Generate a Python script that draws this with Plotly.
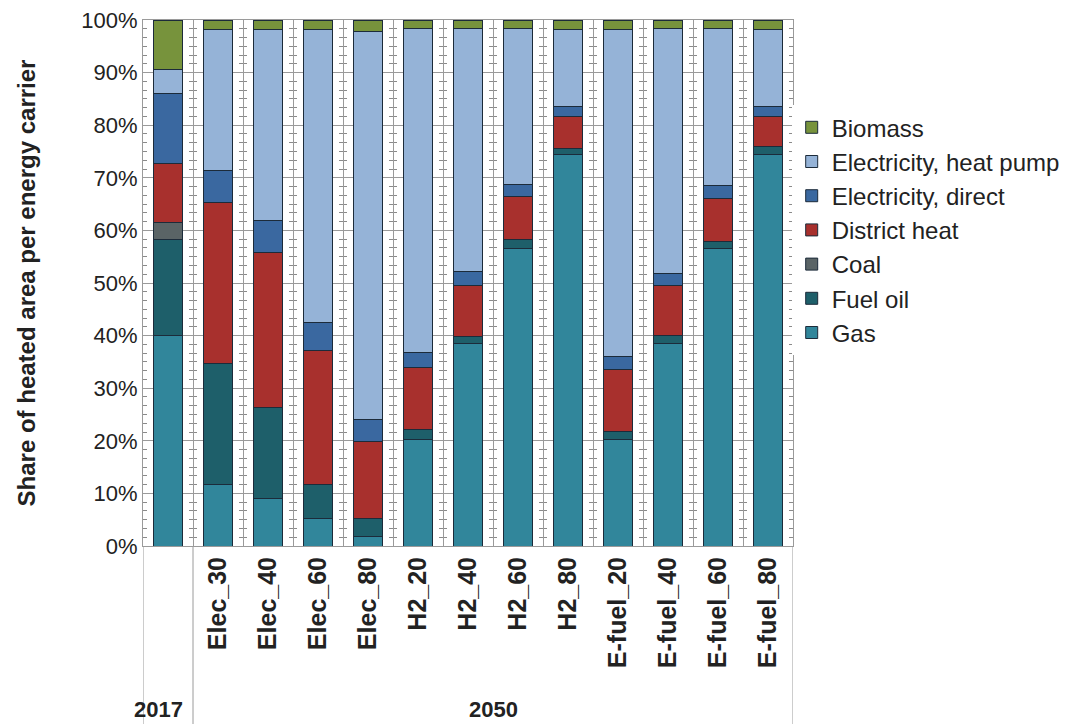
import plotly.graph_objects as go

categories = ["2017", "Elec_30", "Elec_40", "Elec_60", "Elec_80",
              "H2_20", "H2_40", "H2_60", "H2_80",
              "E-fuel_20", "E-fuel_40", "E-fuel_60", "E-fuel_80"]
tick_labels = ["", "Elec_30", "Elec_40", "Elec_60", "Elec_80",
               "H2_20", "H2_40", "H2_60", "H2_80",
               "E-fuel_20", "E-fuel_40", "E-fuel_60", "E-fuel_80"]
y_ticks = [0, 10, 20, 30, 40, 50, 60, 70, 80, 90, 100]
y_tick_text = ["0%", "10%", "20%", "30%", "40%", "50%", "60%", "70%", "80%", "90%", "100%"]

gas            = [40.0, 11.6, 9.0, 5.3, 1.9, 20.2, 38.5, 56.6, 74.5, 20.2, 38.5, 56.6, 74.5]
fuel_oil       = [18.2, 23.1, 17.4, 6.4, 3.4, 2.0, 1.3, 1.6, 1.1, 1.5, 1.6, 1.3, 1.4]
coal           = [3.3, 0, 0, 0, 0, 0, 0, 0, 0, 0, 0, 0, 0]
district_heat  = [11.3, 30.6, 29.4, 25.4, 14.5, 11.8, 9.8, 8.2, 6.0, 11.8, 9.5, 8.2, 5.8]
elec_direct    = [13.3, 6.0, 6.0, 5.4, 4.3, 2.8, 2.6, 2.4, 1.9, 2.6, 2.2, 2.5, 1.9]
elec_heat_pump = [4.5, 26.9, 36.4, 55.7, 73.8, 61.6, 46.2, 29.6, 14.7, 62.1, 46.6, 29.8, 14.5]
biomass        = [9.4, 1.8, 1.8, 1.8, 2.1, 1.6, 1.6, 1.6, 1.8, 1.8, 1.6, 1.6, 1.9]

group_labels = ["2017", "2050"]

series = [
    ("Gas", gas, "#31869B"),
    ("Fuel oil", fuel_oil, "#1E5F6A"),
    ("Coal", coal, "#5A6466"),
    ("District heat", district_heat, "#A8302D"),
    ("Electricity, direct", elec_direct, "#3A68A0"),
    ("Electricity, heat pump", elec_heat_pump, "#95B3D7"),
    ("Biomass", biomass, "#77933C"),
]

fig = go.Figure()
for i, (name, vals, col) in enumerate(series):
    fig.add_trace(go.Bar(
        x=categories, y=vals, name=name,
        legendrank=len(series) - i,
        marker=dict(color=col, line=dict(color="#1C2B3A", width=1)),
        width=0.58,
    ))

ncat = len(categories)
font_main = "Liberation Sans, Arial, sans-serif"

# the page body adds an 8px offset, so the figure is 8px smaller on each side
fig.update_layout(
    barmode="stack",
    width=1070, height=716,
    margin=dict(l=135, r=285, t=12, b=178),
    paper_bgcolor="white", plot_bgcolor="white",
    font=dict(family=font_main, size=22, color="#222222"),
    showlegend=True,
    legend=dict(
        x=0.998, y=0.838, xanchor="left", yanchor="top",
        traceorder="normal",
        font=dict(size=24, color="#222222"),
    ),
    xaxis=dict(
        type="category",
        tickmode="array", tickvals=categories, ticktext=tick_labels,
        tickangle=-90,
        tickfont=dict(size=25, weight="bold", color="#222222"),
        tickson="boundaries", ticks="", ticklen=0,
        showgrid=True, gridcolor="#9A9A9A", gridwidth=1,
        showline=True, linecolor="#9A9A9A", linewidth=1, mirror=True,
        range=[-0.5, ncat - 0.5],
        automargin=False,
    ),
    yaxis=dict(
        range=[0, 100],
        tickmode="array", tickvals=y_ticks, ticktext=y_tick_text,
        ticklabeloverflow="allow",
        tickfont=dict(size=22, color="#222222"),
        showgrid=True, gridcolor="#9A9A9A", gridwidth=1,
        minor=dict(tickmode="linear", tick0=0, dtick=10/6, showgrid=True,
                   gridcolor="#8A8A8A", gridwidth=1,
                   griddash="4px,42px,4px,0px"),
        showline=True, linecolor="#9A9A9A", linewidth=1, mirror=True,
        zeroline=False,
        title=dict(text="<b>Share of heated area per energy carrier</b>",
                   font=dict(size=24, color="#222222"), standoff=38),
        ticks="",
        automargin=False,
    ),
)

# category group separators below the axis
bottom = -178 / 526
for xpos in [-0.5, 0.5, ncat - 0.5]:
    fig.add_shape(type="line", xref="x", yref="paper",
                  x0=xpos, x1=xpos, y0=0, y1=bottom,
                  line=dict(color="#9A9A9A", width=1))

fig.add_annotation(x=0, y=bottom, xref="x", yref="paper", text="<b>" + group_labels[0] + "</b>",
                   showarrow=False, yanchor="bottom", xshift=-10, yshift=0,
                   font=dict(size=22, color="#222222"))
fig.add_annotation(x=(1 + ncat - 1) / 2, y=bottom, xref="x", yref="paper",
                   text="<b>" + group_labels[1] + "</b>",
                   showarrow=False, yanchor="bottom", yshift=0,
                   font=dict(size=22, color="#222222"))

fig.write_html("out.html")
